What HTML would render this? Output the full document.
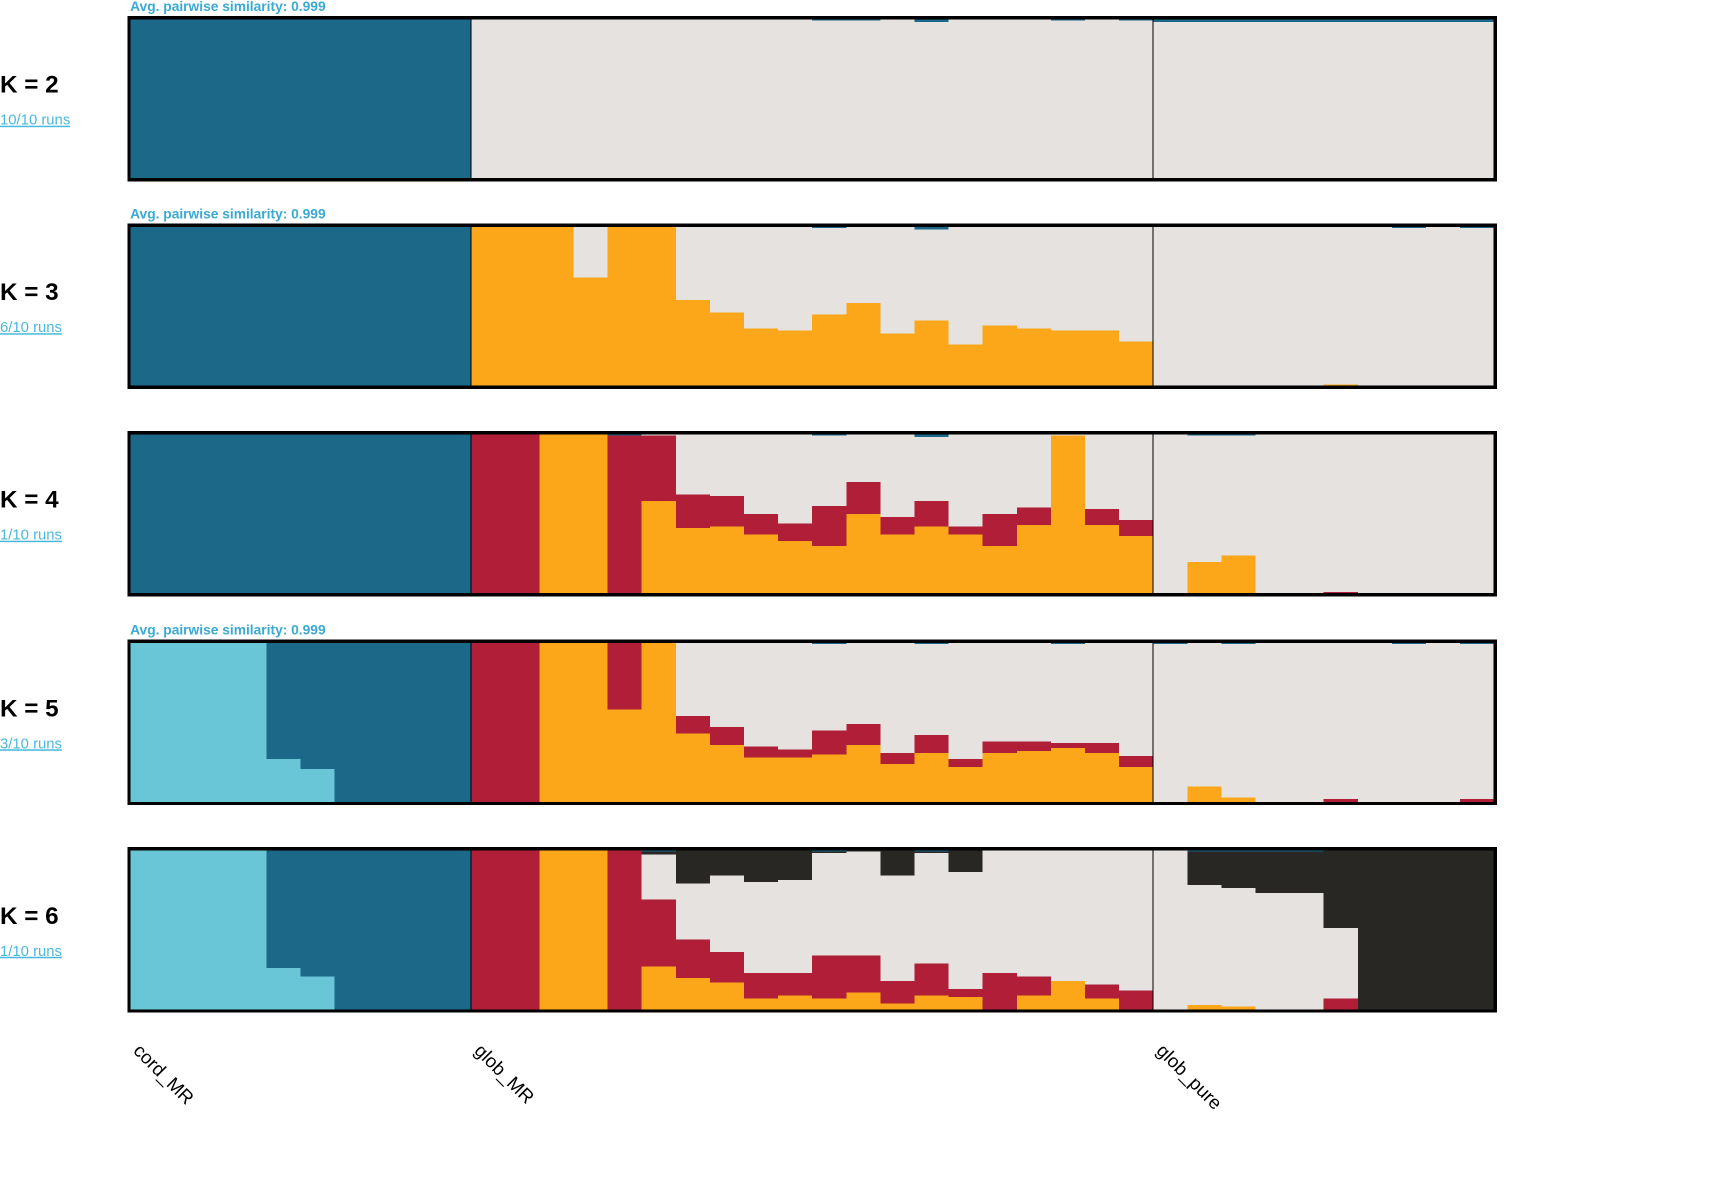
<!DOCTYPE html>
<html><head><meta charset="utf-8"><style>
html,body{margin:0;padding:0;background:#fff;}
svg{display:block;}
</style></head><body>
<svg id="chart" width="1728" height="1203" viewBox="0 0 1567 1090" preserveAspectRatio="none" xmlns="http://www.w3.org/2000/svg" font-family="Liberation Sans, Arial, sans-serif" shape-rendering="crispEdges"></svg>
<script>
// Individuals: 10 cord_MR, 20 glob_MR, 10 glob_pure
const groups = ["cord_MR","glob_MR","glob_pure"];
const groupSizes = [10,20,10];
const kValues = [2,3,4,5,6];
const runsLabels = ["10/10 runs","6/10 runs","1/10 runs","3/10 runs","1/10 runs"];
const similarityLabels = ["Avg. pairwise similarity: 0.999","Avg. pairwise similarity: 0.999","","Avg. pairwise similarity: 0.999",""];
const z10 = [0,0,0,0,0,0,0,0,0,0];
const z20 = [0,0,0,0,0,0,0,0,0,0,0,0,0,0,0,0,0,0,0,0];
// K=2
const k2Blue = [1,1,1,1,1,1,1,1,1,1, 0,0,0,0,0,0,0,0,0,0,0.01,0.01,0,0.02,0,0,0,0.01,0,0.01, 0.02,0.02,0.02,0.02,0.02,0.02,0.02,0.02,0.02,0.02];
// K=3
const k3Blue = [1,1,1,1,1,1,1,1,1,1, 0,0,0,0,0,0,0,0,0,0,0.01,0,0,0.02,0,0,0,0,0,0, 0,0,0,0,0,0,0,0.01,0,0.01];
const k3Orange = [...z10, 1,1,1,0.68,1,1,0.54,0.46,0.36,0.35,0.45,0.52,0.33,0.41,0.26,0.38,0.36,0.35,0.35,0.28, 0,0,0,0,0,0.01,0,0,0,0];
// K=4
const k4Blue = [1,1,1,1,1,1,1,1,1,1, 0,0,0,0,0.01,0,0,0,0,0,0.01,0,0,0.02,0,0,0,0,0,0, 0,0.01,0.01,0,0,0,0,0,0,0];
const k4Orange = [...z10, 0,0,1,1,0,0.58,0.41,0.42,0.37,0.33,0.30,0.50,0.37,0.42,0.37,0.30,0.43,0.99,0.43,0.36, 0,0.20,0.24,0,0,0,0,0,0,0];
const k4Red = [...z10, 1,1,0,0,0.99,0.41,0.21,0.19,0.13,0.11,0.25,0.20,0.11,0.16,0.05,0.20,0.11,0,0.10,0.10, 0,0,0,0,0,0.01,0,0,0,0];
// K=5
const k5Light = [1,1,1,1,0.27,0.21,0,0,0,0, ...z20, ...z10];
const k5Blue = [0,0,0,0,0.73,0.79,1,1,1,1, 0,0,0,0,0,0,0,0,0,0,0.01,0,0,0.01,0,0,0,0.01,0,0, 0.01,0,0.01,0,0,0,0,0.01,0,0.01];
const k5Orange = [...z10, 0,0,1,1,0.58,1,0.43,0.36,0.28,0.28,0.30,0.36,0.24,0.31,0.22,0.31,0.32,0.34,0.31,0.22, 0,0.10,0.03,0,0,0,0,0,0,0];
const k5Red = [...z10, 1,1,0,0,0.42,0,0.11,0.11,0.07,0.05,0.15,0.13,0.07,0.11,0.05,0.07,0.06,0.03,0.06,0.07, 0,0,0,0,0,0.02,0,0,0,0.02];
// K=6
const k6Light = [1,1,1,1,0.26,0.21,0,0,0,0, ...z20, ...z10];
const k6Blue = [0,0,0,0,0.74,0.79,1,1,1,1, 0,0,0,0,0,0.01,0,0,0,0,0.01,0,0,0.01,0,0,0,0,0,0, 0,0.01,0.01,0.01,0.01,0,0,0,0,0];
const k6Orange = [...z10, 0,0,1,1,0,0.27,0.20,0.17,0.07,0.09,0.07,0.11,0.04,0.09,0.08,0,0.09,0.18,0.07,0, 0,0.03,0.02,0,0,0,0,0,0,0];
const k6Red = [...z10, 1,1,0,0,1,0.42,0.24,0.19,0.16,0.14,0.27,0.23,0.14,0.20,0.05,0.23,0.12,0,0.09,0.12, 0,0,0,0,0,0.07,0,0,0,0];
const k6Black = [...z10, 0,0,0,0,0,0.02,0.21,0.16,0.20,0.19,0.01,0.01,0.16,0.01,0.14,0,0,0,0,0, 0,0.21,0.23,0.26,0.26,0.49,1,1,1,1];

const panels = [
  {light:null, orange:null, red:null, black:null, blue:k2Blue},
  {light:null, orange:k3Orange, red:null, black:null, blue:k3Blue},
  {light:null, orange:k4Orange, red:k4Red, black:null, blue:k4Blue},
  {light:k5Light, orange:k5Orange, red:k5Red, black:null, blue:k5Blue},
  {light:k6Light, orange:k6Orange, red:k6Red, black:k6Black, blue:k6Blue}
];
const colors = {light:"#68c6d7", orange:"#fca61a", red:"#b01f37", grey:"#e5e2df", black:"#282723", blue:"#1c6888"};
const order = ["light","orange","red","grey","black","blue"];

const svg = document.getElementById('chart');
const NS = "http://www.w3.org/2000/svg";
const X0 = 118, X1 = 1355;
const N = 40;
const panelTops = [17,205,393,582,770];
const PH = 145;
function xScale(i){ return X0 + (X1 - X0) * i / N; }
function yScale(top, v){ return top + PH * (1 - v); }
function mk(tag, attrs){ const e = document.createElementNS(NS, tag); for (const k in attrs) e.setAttribute(k, attrs[k]); svg.appendChild(e); return e; }

panels.forEach((p, pi) => {
  const top = panelTops[pi];
  for (let i = 0; i < N; i++) {
    const vals = {};
    let s = 0;
    order.forEach(c => { if (c !== 'grey') { vals[c] = p[c] ? p[c][i] : 0; s += vals[c]; } });
    vals.grey = Math.max(0, 1 - s);
    let cum = 0;
    order.forEach(c => {
      const v = vals[c];
      if (v <= 0) return;
      const y1 = yScale(top, cum), y2 = yScale(top, cum + v);
      const r = mk('rect', {x: xScale(i), y: y2, width: xScale(i+1) - xScale(i) + 0.6, height: y1 - y2, fill: colors[c]});
      
      
      cum += v;
    });
  }
  let acc = 0;
  groupSizes.forEach((g, gi) => {
    if (gi > 0) {
      const l = mk('line', {x1: xScale(acc), x2: xScale(acc), y1: top, y2: top + PH, stroke: '#000', 'stroke-width': 1});
      
      
    }
    acc += g;
  });
  const f = mk('rect', {x: X0 - 1, y: top - 1, width: X1 - X0 + 2, height: PH + 2, fill: 'none', stroke: '#000', 'stroke-width': 3});
  
  
  const kt = mk('text', {x: 0, y: top + 67, 'font-size': 22, 'font-weight': 'bold', fill: '#000'});
  kt.textContent = 'K = ' + kValues[pi];
  
  
  const rt = mk('text', {x: 0, y: top + 96, 'font-size': 13.5, fill: '#4ab8dc', 'text-decoration': 'underline'});
  rt.textContent = runsLabels[pi];
  
  
  if (similarityLabels[pi]) {
    const st = mk('text', {x: 118, y: top - 7, 'font-size': 12.5, 'font-weight': 'bold', fill: '#3aaad4'});
    st.textContent = similarityLabels[pi];
    
    
  }
});

let acc2 = 0;
groups.forEach((g, gi) => {
  const x = xScale(acc2) + 2;
  const t = mk('text', {x: x, y: 953, 'font-size': 17, fill: '#000', transform: 'rotate(45 ' + x + ' 953)'});
  t.textContent = g;
  
  
  acc2 += groupSizes[gi];
});
</script>
</body></html>
